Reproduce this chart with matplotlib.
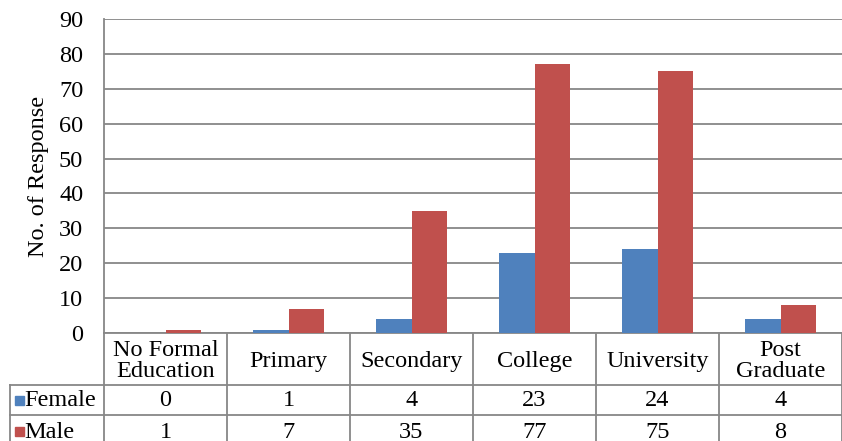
import matplotlib.pyplot as plt
import numpy as np

plt.rcParams['font.family'] = ['Liberation Serif', 'DejaVu Serif']

CATEGORIES = ['No Formal\nEducation', 'Primary', 'Secondary', 'College',
              'University', 'Post\nGraduate']
FEMALE = [0, 1, 4, 23, 24, 4]
MALE = [1, 7, 35, 77, 75, 8]
SERIES = ['Female', 'Male']
Y_TICKS = [0, 10, 20, 30, 40, 50, 60, 70, 80, 90]

BLUE = '#4F81BD'
RED = '#C0504D'
GRID = '#878787'
FONT = 17.5

W, H = 842, 441
PLOT_L, PLOT_R, PLOT_T, PLOT_B = 104, 842, 19, 333
ROW1, ROW2 = 385, 415
HEAD_L = 10
BAR_W = 0.285


def main():
  fig = plt.figure(figsize=(W / 100, H / 100), dpi=100)

  ax = fig.add_axes([PLOT_L / W, 1 - PLOT_B / H, (PLOT_R - PLOT_L) / W,
                     (PLOT_B - PLOT_T) / H])
  n = len(CATEGORIES)
  x = np.arange(n)
  fem = np.array(FEMALE, dtype=float)
  ax.bar(x[fem > 0] - BAR_W, fem[fem > 0], BAR_W, align='edge', color=BLUE,
         zorder=3)
  ax.bar(x, MALE, BAR_W, align='edge', color=RED, zorder=3)
  ax.set_xlim(-0.5, n - 0.5)
  ax.set_ylim(0, 90)
  ax.set_yticks(Y_TICKS)
  ax.set_yticklabels([str(t) for t in Y_TICKS], fontsize=FONT)
  ax.tick_params(axis='y', length=0, pad=15)
  ax.set_xticks([])
  ax.grid(axis='y', color=GRID, linewidth=1.3, zorder=0)
  for s in ['top', 'right']:
    ax.spines[s].set_visible(False)
  for s in ['left', 'bottom']:
    ax.spines[s].set_color(GRID)
    ax.spines[s].set_linewidth(1.3)
  ax.set_ylabel('No. of Response', fontsize=FONT, labelpad=7)

  # data table below the plot, drawn in pixel coordinates
  tab = fig.add_axes([0, 0, 1, 1], zorder=-1)
  tab.set_xlim(0, W)
  tab.set_ylim(H, 0)
  tab.axis('off')
  lw = dict(color=GRID, linewidth=1.3)
  col_w = (PLOT_R - PLOT_L) / n
  for i in range(n + 1):
    xx = PLOT_L + i * col_w
    tab.plot([xx, xx], [PLOT_B, H], **lw)
  tab.plot([HEAD_L, HEAD_L], [ROW1, H], **lw)
  tab.plot([HEAD_L, PLOT_R], [ROW1, ROW1], **lw)
  tab.plot([HEAD_L, PLOT_R], [ROW2, ROW2], **lw)

  for i, cat in enumerate(CATEGORIES):
    cx = PLOT_L + (i + 0.5) * col_w
    tab.text(cx, (PLOT_B + ROW1) / 2 + 2, cat, ha='center', va='center',
             fontsize=FONT, linespacing=1.02)
    tab.text(cx, (ROW1 + ROW2) / 2 + 1, str(FEMALE[i]), ha='center',
             va='center', fontsize=FONT)
    tab.text(cx, (ROW2 + H) / 2 + 4, str(MALE[i]), ha='center',
             va='center', fontsize=FONT)

  for name, color, y0, y1 in [(SERIES[0], BLUE, ROW1, ROW2),
                              (SERIES[1], RED, ROW2, H + 6)]:
    yc = (y0 + y1) / 2
    tab.add_patch(plt.Rectangle((15, yc - 4), 9, 9, color=color))
    tab.text(24, yc + 1, name, ha='left', va='center', fontsize=FONT)

  fig.savefig('out.png', dpi=100)


if __name__ == '__main__':
  main()
